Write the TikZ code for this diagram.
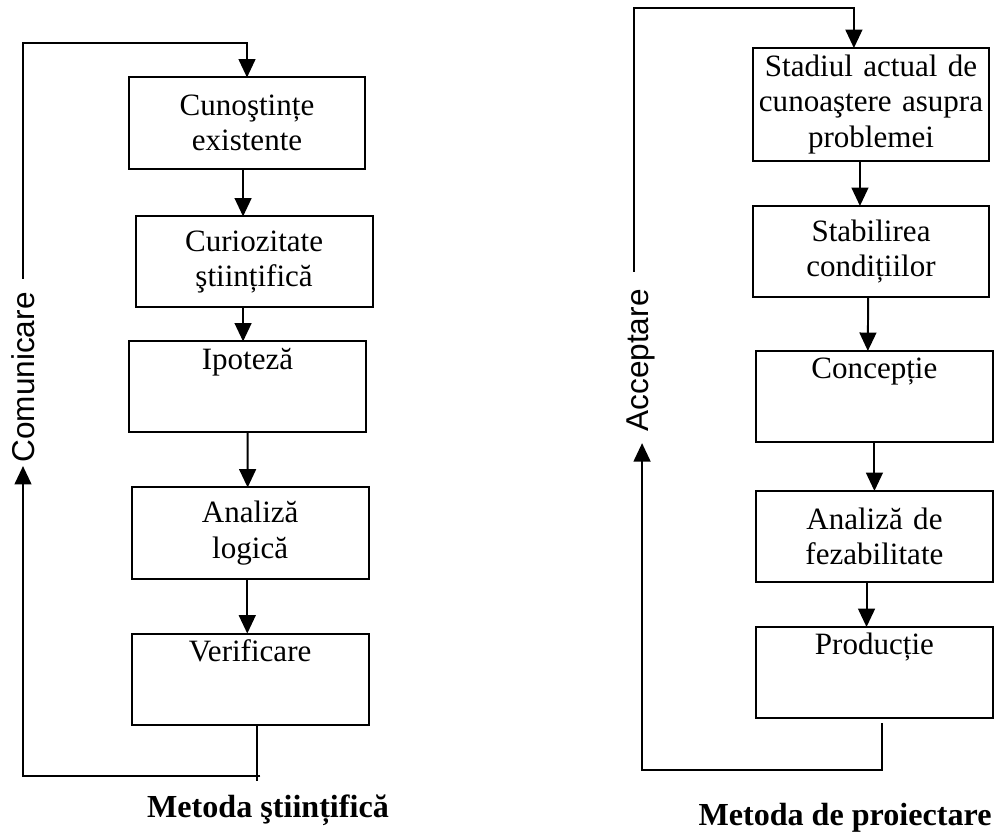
\documentclass[tikz,border=0pt]{standalone}
\usepackage{fontspec}
\setmainfont{Liberation Serif}
\setsansfont{Liberation Sans}
\usetikzlibrary{
  arrows.meta,
  calc,
  positioning
}

\begin{document}
\begin{tikzpicture}[
  x=0.38pt, y=-0.38pt,
  font=\fontsize{11.8}{13.5}\selectfont,
  block/.style={draw, line width=0.75pt, align=center, inner sep=1pt, outer sep=0pt, text width=88pt, minimum height=34.6pt},
  tall/.style={block, minimum height=42.9pt},
  side/.style={font=\fontsize{12}{14}\selectfont\sffamily, rotate=90, inner sep=0pt},
  heading/.style={font=\fontsize{12.2}{14}\selectfont\bfseries},
  arrow/.style={-{Triangle[length=7pt,width=6.4pt]}, line width=0.75pt},
  link/.style={line width=0.75pt}
]
\path[use as bounding box, fill=white] (0,0) rectangle (1001,835);

\node[block] (cun) at (247,123) {Cunoştințe\\existente};
\node[block, below=18.2pt of cun, xshift=2.7pt] (cur) {Curiozitate\\ştiințifică};
\node[block, below=12.9pt of cur, xshift=-2.5pt] (ipo) {Ipoteză\\[4pt]\strut};
\node[block, below=20.9pt of ipo, xshift=1pt] (ana) {Analiză\\logică};
\node[block, below=20.9pt of ana] (ver) {Verificare\\[4pt]\strut};
\node[side] (com) at (23,377.5) {Comunicare};
\node[heading] (tl) at (268,810) {Metoda ştiințifică};

\draw[arrow] ([xshift=-1.5pt]cun.south) -- ([xshift=-4.2pt]cur.north);
\draw[arrow] ([xshift=-4.2pt]cur.south) -- ([xshift=-1.7pt]ipo.north);
\draw[arrow] (ipo.south) -- ([xshift=-0.95pt]ana.north);
\draw[arrow] ([xshift=-1.1pt]ana.south) -- ([xshift=-1.1pt]ver.north);

\draw[link] ([xshift=2.7pt]ver.south) -- ++(0,56);
\draw[arrow] ([xshift=2.7pt]ver.south) ++(3,51) -| ([yshift=-1.1pt]com.west);
\coordinate (topl) at ($(cun.north)+(0,-34)$);
\draw[arrow] ([yshift=4.9pt]com.east) |- (topl) -- (cun.north);

\node[tall] (sta) at (871,104.5) {Stadiul actual de\\cunoaştere asupra\\problemei};
\node[block, below=17.1pt of sta] (stb) {Stabilirea\\condițiilor};
\node[block, below=20.5pt of stb, xshift=1.3pt] (con) {Concepție\\[4pt]\strut};
\node[block, below=18.6pt of con] (fez) {Analiză de\\fezabilitate};
\node[block, below=17.1pt of fez] (pro) {Producție\\[4pt]\strut};
\node[side] (acc) at (641,360.5) {Acceptare};
\node[heading] (tr) at (845,818) {Metoda de proiectare};

\draw[arrow] ([xshift=-4.2pt]sta.south) -- ([xshift=-4.2pt]stb.north);
\draw[arrow] ([xshift=-1.1pt]stb.south) -- ([xshift=-2.5pt]con.north);
\draw[arrow] (con.south) -- (fez.north);
\draw[arrow] ([xshift=-3pt]fez.south) -- ([xshift=-3pt]pro.north);

\draw[arrow] ([shift={(3pt,-1.9pt)}]pro.south) -- ++(0,47) -| ([shift={(0.4pt,-4.2pt)}]acc.west);
\coordinate (topr) at ($([xshift=-6.5pt]sta.north)+(0,-40)$);
\draw[arrow] ([shift={(-2.7pt,6.5pt)}]acc.east) |- (topr) -- ([xshift=-6.5pt]sta.north);
\end{tikzpicture}
\end{document}
